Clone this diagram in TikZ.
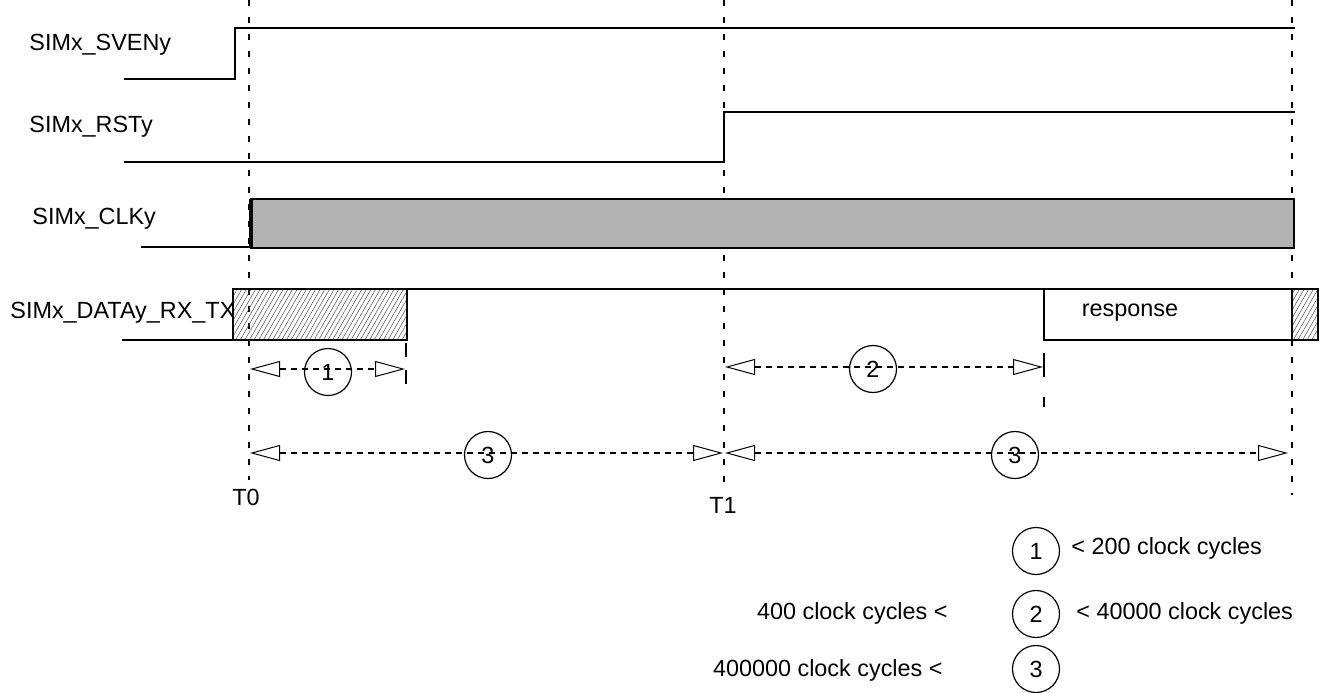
\documentclass[tikz,border=0pt]{standalone}
\usepackage{fontspec}
\setmainfont{Liberation Sans}
\usetikzlibrary{arrows.meta, patterns.meta}

\tikzset{
	sig/.style={line width=1pt},
	tline/.style={line width=1pt, dash pattern=on 3pt off 5.5pt},
	tick/.style={line width=1pt, dash pattern=on 7pt off 6.5pt},
	dim/.style={line width=0.6pt, dash pattern=on 3pt off 2.5pt,
		{Triangle[open,length=15pt,width=8pt,line width=0.5pt]}-{Triangle[open,length=15pt,width=8pt,line width=0.5pt]}},
	num/.style={circle, draw, line width=0.6pt, minimum size=23.5pt, inner sep=0pt, font=\fontsize{11.7}{14}\selectfont},
	hatch/.style={pattern={Lines[angle=60,distance=2pt,line width=0.25pt]}, pattern color=black!70},
	lbl/.style={inner sep=0pt, font=\fontsize{11.7}{14}\selectfont},
}

\begin{document}
\begin{tikzpicture}[x=0.5pt, y=-0.5pt]
	\useasboundingbox (0,0) rectangle (1319,692);
	% time marks
	\coordinate (t0) at (249,0);
	\coordinate (t1) at (724,0);
	\coordinate (tend) at (1292,0);
	\draw[tline] (t0) -- (249,480);
	\draw[tline] (t1) -- (724,487);
	\draw[tline] (tend) -- (1292,495);
	\node[lbl] (T0) at (246,497) {T0};
	\node[lbl] (T1) at (723,505) {T1};

	% signal names
	\node[lbl, anchor=west] (sven) at (29,45) {SIMx\_SVENy};
	\node[lbl, anchor=west] (rst) at (29,127) {SIMx\_RSTy};
	\node[lbl, anchor=west] (clk) at (32,219) {SIMx\_CLKy};
	\node[lbl, anchor=west] (data) at (10,313) {SIMx\_DATAy\_RX\_TX};

	% waveforms
	\draw[sig] (124,79) -- (235,79) -- (235,28) -- (1295,28);
	\draw[sig] (124,162) -- (724,162) -- (724,112) -- (1295,112);
	\draw[sig] (141,247) -- (251,247);
	\draw[sig, fill=black!30] (251,199) rectangle (1294,248);
	\draw[line width=1.6pt] (251,199) -- (251,248);
	\draw[sig] (122,340) -- (233,340);
	\draw[sig, hatch] (233,289) rectangle (407,340);
	\draw[sig] (407,289) -- (1044,289);
	\draw[sig] (1044,289) rectangle (1292,340);
	\node[lbl] (resp) at (1130,313) {response};
	\draw[sig, hatch] (1292,289) rectangle (1318,340);

	% intervals
	\draw[tick] (406,343) -- (406,384);
	\draw[line width=1pt, dash pattern=on 12pt off 10pt] (1044,353) -- (1044,407);
	\coordinate (d1a) at (250,369);
	\coordinate (d1b) at (405,369);
	\draw[dim] (d1a) -- (d1b);
	\node[num] (n1) at (328,372) {1};
	\coordinate (d2a) at (725,367);
	\coordinate (d2b) at (1043,367);
	\draw[dim] (d2a) -- (d2b);
	\node[num] (n2) at (873,369) {2};
	\coordinate (d3a) at (250,453);
	\coordinate (d3b) at (723,453);
	\coordinate (d3c) at (725,453);
	\coordinate (d3d) at (1288,453);
	\draw[dim] (d3a) -- (d3b);
	\draw[dim] (d3c) -- (d3d);
	\node[num] (n3a) at (488,455) {3};
	\node[num] (n3b) at (1015,455) {3};

	% legend
	\node[num] (k1) at (1036,551) {1};
	\node[num] (k2) at (1036,614) {2};
	\node[num] (k3) at (1036,669) {3};
	\node[lbl, anchor=west] (k1r) at (1071,548) {< 200 clock cycles};
	\node[lbl, anchor=west] (k2r) at (1076,613) {< 40000 clock cycles};
	\node[lbl, anchor=east] (k2l) at (948,613) {400 clock cycles <};
	\node[lbl, anchor=east] (k3l) at (943,670) {400000 clock cycles <};
\end{tikzpicture}
\end{document}
